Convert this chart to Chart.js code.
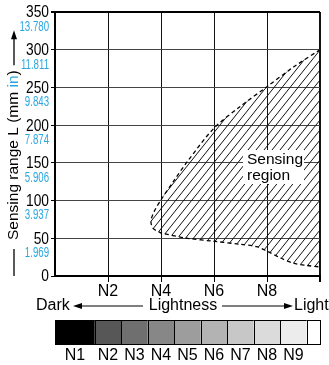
<!DOCTYPE html>
<html>
<head>
<meta charset="utf-8">
<script src="https://cdn.jsdelivr.net/npm/chart.js@4.4.0/dist/chart.umd.min.js"></script>
<style>
  html, body { margin: 0; padding: 0; background: #fff; }
  canvas { display: block; }
</style>
</head>
<body>
<canvas id="grafico" width="329" height="365"></canvas>
<script>
// ============================
// Dados do gráfico
// ============================
const yValores = [0, 50, 100, 150, 200, 250, 300, 350];
const yRotulos = ['0', '50', '100', '150', '200', '250', '300', '350'];
const yRotulosPol = ['', '1.969', '3.937', '5.906', '7.874', '9.843', '11.811', '13.780'];

const xValores = [0, 2, 4, 6, 8, 10];
const xRotulos = ['', 'N2', 'N4', 'N6', 'N8', ''];

// contorno da região: parte de cima (direita -> bico), depois parte de baixo (bico -> direita)
const regiaoX = [10, 9, 8, 7, 6, 5, 4.5, 4, 3.75, 3.62, 3.7, 3.9, 4, 5, 6, 7, 7.6, 8, 8.5, 9, 9.5, 10];
const regiaoY = [300, 277, 251, 225, 196, 152, 127, 101, 86, 73, 63, 59, 57, 50, 46, 42, 39, 33, 24, 17, 14, 12];

// escala de cinza
const cinzaNomes = ['N1', 'N2', 'N3', 'N4', 'N5', 'N6', 'N7', 'N8', 'N9'];
const cinzaPosRotulo = [0.75, 2, 3, 4, 5, 6, 7, 8, 9];
const cinzaLimites = [0, 1.5, 2.5, 3.5, 4.5, 5.5, 6.5, 7.5, 8.5, 9.5, 10];
const cinzaCores = ['#000000', '#575757', '#6f6f6f', '#878787', '#9d9d9d', '#b3b3b3', '#c7c7c7', '#dbdbdb', '#ececec', '#ffffff'];

const AZUL = '#2aa7e0';
const FONTE = '"Liberation Sans", Arial, sans-serif';

// ============================
// Hachura da região
// ============================
function criaHachura() {
  const c = document.createElement('canvas');
  c.width = 8;
  c.height = 10;
  const g = c.getContext('2d');
  g.strokeStyle = '#111';
  g.lineWidth = 1;
  for (const dx of [-8, 0, 8]) {
    g.beginPath();
    g.moveTo(dx - 0.8, 11);
    g.lineTo(dx + 8.8, -1);
    g.stroke();
  }
  return g.createPattern(c, 'repeat');
}

function seta(ctx, x, y, dir) {
  // dir = -1 aponta para a esquerda, 1 para a direita
  ctx.beginPath();
  ctx.moveTo(x, y);
  ctx.lineTo(x - dir * 9, y - 3);
  ctx.lineTo(x - dir * 9, y + 3);
  ctx.closePath();
  ctx.fill();
}

// texto "estreito" (sem fonte condensada instalada, achata na horizontal)
function textoEstreito(ctx, txt, x, y, fator) {
  ctx.save();
  ctx.translate(x, y);
  ctx.scale(fator, 1);
  ctx.fillText(txt, 0, 0);
  ctx.restore();
}

// ============================
// Plugin com textos extras
// ============================
const extras = {
  id: 'extras',
  afterDatasetsDraw(chart) {
    const ctx = chart.ctx;
    ctx.save();
    // caixa branca do texto "Sensing region"
    ctx.fillStyle = '#fff';
    ctx.fillRect(243, 150, 61, 34);
    ctx.fillStyle = '#000';
    ctx.font = '15.5px ' + FONTE;
    ctx.textAlign = 'left';
    ctx.textBaseline = 'middle';
    ctx.fillText('Sensing', 247, 160);
    ctx.fillText('region', 247, 176);
    ctx.restore();
  },
  afterDraw(chart) {
    const ctx = chart.ctx;
    const xs = chart.scales.x;
    const ys = chart.scales.y;
    ctx.save();

    // rótulos do eixo y: mm (preto) e polegadas (azul)
    ctx.textAlign = 'right';
    ctx.textBaseline = 'middle';
    yValores.forEach((v, i) => {
      const py = ys.getPixelForValue(v);
      ctx.fillStyle = '#000';
      ctx.font = '16px ' + FONTE;
      textoEstreito(ctx, yRotulos[i], 49, py + 1, 0.86);
      if (yRotulosPol[i]) {
        ctx.fillStyle = AZUL;
        ctx.font = '14px ' + FONTE;
        textoEstreito(ctx, yRotulosPol[i], 49, py + 15, 0.69);
      }
    });

    // título do eixo y (vertical)
    ctx.save();
    ctx.translate(14, 240);
    ctx.rotate(-Math.PI / 2);
    ctx.font = '15.5px ' + FONTE;
    ctx.textAlign = 'left';
    ctx.textBaseline = 'middle';
    let px = 0;
    const partes = [['Sensing range L (mm ', '#000'], ['in', AZUL], [')', '#000']];
    partes.forEach(p => {
      ctx.fillStyle = p[1];
      ctx.fillText(p[0], px, 0);
      px += ctx.measureText(p[0]).width;
    });
    ctx.strokeStyle = '#000';
    ctx.fillStyle = '#000';
    ctx.lineWidth = 1.3;
    ctx.beginPath();
    ctx.moveTo(-9, 0);
    ctx.lineTo(-36, 0);
    ctx.stroke();
    ctx.beginPath();
    ctx.moveTo(px + 5, 0);
    ctx.lineTo(px + 32, 0);
    ctx.stroke();
    seta(ctx, px + 40, 0, 1);
    ctx.restore();

    // linha Dark <- Lightness -> Light
    const yl = 306;
    ctx.fillStyle = '#000';
    ctx.strokeStyle = '#000';
    ctx.lineWidth = 1.2;
    ctx.font = '16px ' + FONTE;
    ctx.textBaseline = 'middle';
    ctx.textAlign = 'left';
    ctx.fillText('Dark', 36, yl);
    ctx.fillText('Light', 294, yl);
    ctx.textAlign = 'center';
    ctx.fillText('Lightness', 183, yl);
    ctx.beginPath();
    ctx.moveTo(80, yl);
    ctx.lineTo(143, yl);
    ctx.moveTo(222, yl);
    ctx.lineTo(286, yl);
    ctx.stroke();
    seta(ctx, 73, yl, -1);
    seta(ctx, 293, yl, 1);

    // barra de cinzas
    const yb = 320, hb = 24;
    for (let i = 0; i < cinzaCores.length; i++) {
      const x0 = xs.getPixelForValue(cinzaLimites[i]);
      const x1 = xs.getPixelForValue(cinzaLimites[i + 1]);
      ctx.fillStyle = cinzaCores[i];
      ctx.fillRect(x0, yb, x1 - x0, hb);
      ctx.strokeStyle = '#000';
      ctx.lineWidth = 1;
      ctx.strokeRect(Math.round(x0) + 0.5, yb + 0.5, Math.round(x1 - x0), hb);
    }
    ctx.fillStyle = '#000';
    ctx.font = '16px ' + FONTE;
    ctx.textAlign = 'center';
    cinzaNomes.forEach((n, i) => {
      ctx.fillText(n, xs.getPixelForValue(cinzaPosRotulo[i]), 356);
    });

    ctx.restore();
  }
};

// ============================
// Gráfico
// ============================
const ctxGrafico = document.getElementById('grafico').getContext('2d');

const grafico = new Chart(ctxGrafico, {
  type: 'scatter',
  data: {
    datasets: [{
      data: regiaoX.map((x, i) => ({ x: x, y: regiaoY[i] })),
      showLine: true,
      fill: 'shape',
      backgroundColor: criaHachura(),
      borderColor: '#000',
      borderWidth: 1.3,
      borderDash: [4, 3],
      tension: 0.3,
      pointRadius: 0
    }]
  },
  options: {
    responsive: false,
    animation: false,
    layout: { padding: { top: 12, right: 9, left: 0, bottom: 0 } },
    plugins: {
      legend: { display: false },
      tooltip: { enabled: false }
    },
    scales: {
      x: {
        type: 'linear',
        min: 0,
        max: 10,
        afterBuildTicks: s => { s.ticks = xValores.map(v => ({ value: v })); },
        afterFit: s => { s.height = 89; },
        ticks: {
          callback: v => xRotulos[xValores.indexOf(v)] || '',
          color: '#000',
          font: { size: 16, family: FONTE },
          padding: 0,
          maxRotation: 0,
          autoSkip: false
        },
        grid: {
          color: c => (c.tick && c.tick.value === 0) ? 'rgba(0,0,0,0)' : '#111',
          lineWidth: c => (c.tick && c.tick.value === 10) ? 2 : 1,
          tickColor: c => (c.tick && c.tick.value === 0) ? 'rgba(0,0,0,0)' : '#000',
          tickLength: 6
        },
        border: { color: '#000', width: 2 }
      },
      y: {
        type: 'linear',
        min: 0,
        max: 350,
        afterBuildTicks: s => { s.ticks = yValores.map(v => ({ value: v })); },
        afterFit: s => { s.width = 55; },
        ticks: {
          // os rótulos são desenhados pelo plugin (mm + polegadas)
          display: false
        },
        grid: {
          color: c => (c.tick && c.tick.value === 350) ? '#000' : '#444',
          lineWidth: c => (c.tick && c.tick.value === 350) ? 2 : 1,
          tickColor: '#000',
          tickLength: 4
        },
        border: { color: '#000', width: 2 }
      }
    }
  },
  plugins: [extras]
});
</script>
</body>
</html>
